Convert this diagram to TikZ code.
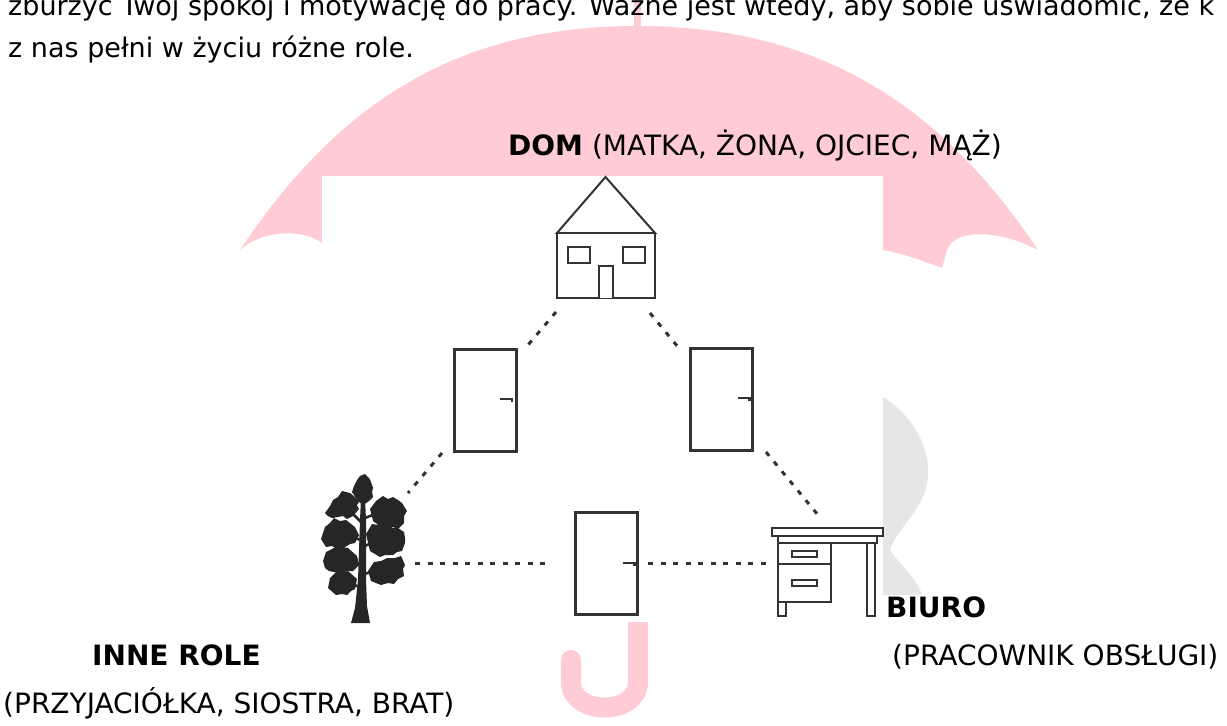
\documentclass[tikz,border=0pt]{standalone}
\usepackage{fontspec}
\setmainfont{DejaVu Sans}
\definecolor{ink}{HTML}{333333}
\definecolor{canopy}{HTML}{FFCCD5}
\definecolor{greyish}{HTML}{E6E6E6}
\definecolor{leaf}{HTML}{262626}
\begin{document}
\begin{tikzpicture}[x=1pt,y=-1pt,
  txt/.style={anchor=base west, inner sep=0pt, font=\fontsize{27}{32}\selectfont},
  lbl/.style={anchor=base west, inner sep=0pt, font=\fontsize{28}{33}\selectfont},
  door/.style={draw=ink, line width=3pt, minimum width=62pt, minimum height=102pt, inner sep=0pt, fill=white},
  knob/.style={draw=ink, line width=2.5pt},
  conn/.style={draw=ink, line width=3pt, dash pattern=on 5pt off 7.5pt},
  outline/.style={draw=ink, line width=2pt, fill=white},
  twig/.style={draw=leaf, line width=2.5pt},
  frame/.style={inner sep=0pt, draw=none},
]
\useasboundingbox (0,0) rectangle (1227,726);
\clip (0,0) rectangle (1227,726);

% umbrella: shaft tip and canopy
\fill[canopy] (633.5,-2) rectangle (640.5,30);
\fill[canopy] (240,250) .. controls (340,100) and (460,26) .. (637,26)
  .. controls (814,26) and (938,100) .. (1038,250)
  .. controls (1000,230) and (955,228) .. (947,250) -- (942,268)
  .. controls (915,258) and (900,253) .. (883,250)
  -- (322,243) .. controls (305,230) and (265,228) .. (240,250) -- cycle;
% umbrella handle
\draw[canopy, line width=20pt, line cap=round] (638,612) -- (638,682)
  .. controls (638,716) and (571,716) .. (571,682) -- (571,660);
% grey shape at the right
\fill[greyish] (883,397) .. controls (905,410) and (930,440) .. (928,475)
  .. controls (926,510) and (896,528) .. (890,550)
  .. controls (900,565) and (918,580) .. (922,595) -- (883,595) -- cycle;
% white panel behind the diagram
\fill[white] (322,176) rectangle (883,622);

% running text
\node[txt] (line1) at (8,15) {zburzyć Twój spokój i motywację do pracy. Ważne jest wtedy, aby sobie uświadomić, że k};
\node[txt] (line2) at (8,57) {z nas pełni w życiu różne role.};

% house
\node[frame, minimum width=98pt, minimum height=121pt] (house) at (606,237.5) {};
\draw[outline] (557,233) -- (605.5,177) -- (655,233) -- cycle;
\draw[outline] (557,233) rectangle (655,298);
\draw[outline] (568,247) rectangle (590,263);
\draw[outline] (623,247) rectangle (645,263);
\draw[outline] (599,298) -- (599,266) -- (613,266) -- (613,298);

% doors
\node[door] (d1) at (485,400.5) {};
\node[door] (d2) at (721.5,399.5) {};
\node[door] (d3) at (606.5,563) {};
\draw[knob] (d1.east) ++(-17.5,-1.5) -- ++(12,0) -- ++(0,3);
\draw[knob] (d2.east) ++(-16.5,-1.5) -- ++(12,0) -- ++(0,3);
\draw[knob] (d3.east) ++(-16.5,0) -- ++(12,0) -- ++(0,3);

% tree
\node[frame, minimum width=84pt, minimum height=148pt] (tree) at (364,549) {};
\fill[leaf] (351,623) -- (355,608) -- (358,580) -- (359,550) -- (360,520) -- (361,498)
  -- (365,498) -- (366,520) -- (366,550) -- (366,580) -- (367,606) -- (370,623) -- cycle;
\draw[twig] (361,522) -- (347,508);
\draw[twig] (365,518) -- (380,512);
\draw[twig] (360,540) -- (347,534);
\draw[twig] (365,546) -- (378,540);
\draw[twig] (360,564) -- (347,560);
\draw[twig] (365,574) -- (377,569);
\draw[twig] (359,587) -- (348,582);
\begin{scope}[leaf]
\fill (354,486) -- (357,480) -- (360,476) -- (365,474) -- (369,478) -- (371,482) -- (373,488)
  -- (372,492) -- (373,497) -- (369,501) -- (363,505) -- (358,501) -- (356,498) -- (352,492) -- cycle;
\fill (325,513) -- (330,506) -- (333,500) -- (338,497) -- (342,491) -- (350,493) -- (355,497)
  -- (359,502) -- (357,505) -- (359,509) -- (353,516) -- (347,519) -- (343,516) -- (338,517)
  -- (332,518) -- (328,516) -- cycle;
\fill (370,509) -- (376,501) -- (383,496) -- (388,499) -- (393,497) -- (398,500) -- (402,503)
  -- (407,511) -- (404,516) -- (404,523) -- (398,529) -- (393,527) -- (388,530) -- (381,527)
  -- (373,521) -- cycle;
\fill (321,539) -- (323,533) -- (325,527) -- (330,523) -- (334,518) -- (340,521) -- (346,520)
  -- (355,527) -- (359,535) -- (355,543) -- (350,544) -- (345,547) -- (337,549) -- (332,546)
  -- (326,547) -- cycle;
\fill (366,534) -- (372,524) -- (378,525) -- (382,523) -- (393,528) -- (398,528) -- (404,532)
  -- (405,538) -- (405,543) -- (402,551) -- (397,552) -- (393,555) -- (385,555) -- (380,557)
  -- (370,551) -- cycle;
\fill (323,561) -- (326,552) -- (332,549) -- (337,546) -- (348,548) -- (357,556) -- (359,565)
  -- (353,571) -- (347,571) -- (343,574) -- (334,572) -- (329,571) -- (325,568) -- cycle;
\fill (368,571) -- (374,562) -- (381,561) -- (387,558) -- (395,558) -- (401,556) -- (405,565)
  -- (403,569) -- (404,576) -- (398,579) -- (394,584) -- (388,583) -- (381,585) -- (371,581) -- cycle;
\fill (328,588) -- (330,578) -- (337,571) -- (343,573) -- (348,571) -- (357,579) -- (355,589)
  -- (351,591) -- (347,595) -- (342,594) -- (336,595) -- cycle;
\end{scope}

% desk
\node[frame, minimum width=111pt, minimum height=88pt] (desk) at (827.5,572) {};
\draw[outline] (778,602) rectangle (786,616);
\draw[outline] (867,543) rectangle (875,616);
\draw[outline] (778,543) rectangle (831,602);
\draw[ink, line width=2pt] (778,564) -- (831,564);
\draw[outline] (792,551) rectangle (817,557);
\draw[outline] (792,580) rectangle (817,586);
\draw[outline] (778,536) rectangle (877,543);
\draw[outline] (772,528) rectangle (883,536);

% dotted links between the places
\coordinate (dom-l) at (556,312);
\coordinate (dom-r) at (650,313);
\coordinate (d1-top) at (528,345);
\coordinate (d2-top) at (678,347);
\coordinate (d1-bot) at (442,453);
\coordinate (d2-bot) at (766,452);
\coordinate (tree-top) at (408,493);
\coordinate (tree-side) at (415,563);
\coordinate (desk-top) at (818,515);
\coordinate (desk-side) at (767,563);
\draw[conn] (dom-l) -- (d1-top);
\draw[conn] (dom-r) -- (d2-top);
\draw[conn] (d1-bot) -- (tree-top);
\draw[conn] (d2-bot) -- (desk-top);
\draw[conn, shorten >=24pt] (tree-side) -- (d3.west);
\draw[conn, shorten <=9pt] (d3.east) -- (desk-side);

% labels
\node[lbl] (dom) at (508,155) {\textbf{DOM} (MATKA, ŻONA, OJCIEC, MĄŻ)};
\node[lbl] (biuro) at (886,617) {\textbf{BIURO}};
\node[lbl] (biuro-r) at (892,665) {(PRACOWNIK OBSŁUGI)};
\node[lbl] (inne) at (92,665) {\textbf{INNE ROLE}};
\node[lbl] (inne-r) at (3,713) {(PRZYJACIÓŁKA, SIOSTRA, BRAT)};
\end{tikzpicture}
\end{document}
